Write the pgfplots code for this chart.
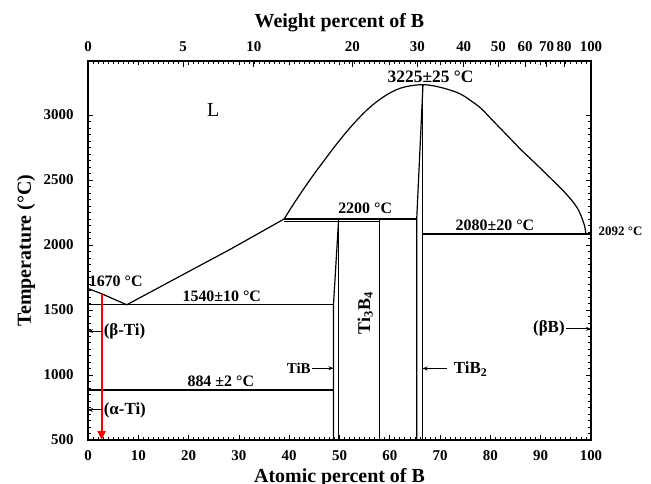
\documentclass[border=0pt]{standalone}
\usepackage{fontspec}
\setmainfont{Liberation Serif}
\usepackage{pgfplots}
\pgfplotsset{compat=1.18}
\usetikzlibrary{arrows.meta}

\begin{document}
\begin{tikzpicture}
\pgfplotsset{
  base/.style={
    scale only axis, width=503bp, height=379bp,
    xmin=0, xmax=100, ymin=500, ymax=3415,
    tick align=inside,
    major tick length=5bp, minor tick length=2.8bp,
    every tick/.style={black, line width=0.8bp},
    axis line style={line width=1.3bp},
    ticklabel style={font=\fontsize{15}{18}\selectfont\bfseries},
    /pgf/number format/assume math mode=true,
    /pgf/number format/1000 sep={},
    label style={font=\fontsize{20}{24}\selectfont\bfseries},
    clip=false,
  }
}
% top axis: weight percent
\begin{axis}[base,
  hide y axis,
  xtick pos=right, xticklabel pos=right,
  xtick={0,18.90,32.98,52.54,65.49,74.70,81.58,86.92,91.18,94.66,100},
  xticklabels={0,5,10,20,30,40,50,60,70,80,100},
  minor xtick={1,2,...,99},
  major tick length=6bp,
  extra x ticks={10,20,...,90},
  extra x tick labels={},
  extra x tick style={major tick length=4.5bp},
  xticklabel style={yshift=6bp},
  xlabel={Weight percent of B},
  xlabel style={at={([yshift=33bp]axis description cs:0.5,1)}, anchor=base},
]
\addplot[draw=none] coordinates {(0,500)(100,500)};
\end{axis}
% main axis
\begin{axis}[base, name=main,
  xtick={0,10,...,100}, minor x tick num=9,
  ytick={500,1000,...,3000}, minor y tick num=9,
  xtick pos=left, ytick pos=both, yticklabel pos=left,
  xticklabel style={yshift=-7bp},
  yticklabel style={xshift=-11bp},
  xlabel={Atomic percent of B},
  ylabel={Temperature (°C)},
  xlabel style={at={([yshift=-42bp]axis description cs:0.5,0)}, anchor=base},
  ylabel style={at={([xshift=-57bp]axis description cs:0,0.5)}, anchor=base},
]
% liquidus, Ti side
\addplot[black, line width=1.2bp] coordinates {(0,1665)(2.7,1625)(7.7,1540)(18.3,1760)(28.2,1965)(39,2200)};
% liquidus dome
\addplot[black, line width=1.2bp, smooth, tension=0.6] coordinates {
 (39,2200)(40.5,2293)(42.3,2398)(44,2494)(45.6,2580)(47.3,2668)(48.9,2750)(50.5,2828)(52.2,2906)
 (53.9,2978)(55.5,3040)(57.2,3096)(58.9,3143)(60.5,3179)(62.2,3207)(64.4,3226)(66.6,3233)
 (68.4,3226)(70.1,3212)(72.1,3190)(74.1,3160)(76.1,3110)(78.1,3052)(80.1,2972)(82.1,2892)
 (84.1,2812)(86.1,2732)(88,2662)(90,2588)(92,2512)(94,2436)(95.4,2378)(96.7,2317)(97.6,2262)
 (98.3,2197)(98.7,2150)(99,2088)};
% horizontal invariant lines
\addplot[black, line width=1.2bp] coordinates {(0,1540)(48.8,1540)};
\addplot[black, line width=1.2bp] coordinates {(0,884)(48.8,884)};
\addplot[black, line width=1.2bp] coordinates {(39,2200)(65.35,2200)};
\addplot[black, line width=1.2bp] coordinates {(39,2180)(57.9,2180)};
\addplot[black, line width=1.2bp] coordinates {(66.5,2085)(100,2085)};
% TiB
\addplot[black, line width=1.2bp] coordinates {(48.8,500)(48.8,1540)(49.8,2180)};
\addplot[black, line width=1.2bp] coordinates {(49.8,500)(49.8,2200)};
% Ti3B4
\addplot[black, line width=1.2bp] coordinates {(57.9,500)(57.9,2190)};
% TiB2
\addplot[black, line width=1.2bp] coordinates {(65.35,500)(65.35,2200)(66.6,3233)};
\addplot[black, line width=1.2bp] coordinates {(66.5,500)(66.5,3233)};
% red arrow
\addplot[red, line width=2bp, -{Triangle[length=9bp,width=8bp]}] coordinates {(2.7,1625)(2.7,500)};
% small arrows
\addplot[black, line width=1bp, -{Stealth[length=5bp,width=4bp]}] coordinates {(2.6,1338)(0,1338)};
\addplot[black, line width=1bp, -{Stealth[length=5bp,width=4bp]}] coordinates {(2.6,731)(0,731)};
\addplot[black, line width=1bp, -{Stealth[length=5bp,width=4bp]}] coordinates {(44.6,1052)(48.8,1052)};
\addplot[black, line width=1bp, -{Stealth[length=5bp,width=4bp]}] coordinates {(71.3,1050)(66.5,1050)};
\addplot[black, line width=1bp, -{Stealth[length=5bp,width=4bp]}] coordinates {(95.1,1355)(100,1355)};
% labels
\node[font=\fontsize{20}{24}\selectfont] at (axis cs:24.9,3038) {L};
\node[font=\fontsize{17.5}{20}\selectfont\bfseries] at (axis cs:68.1,3294) {3225±25 °C};
\node[font=\fontsize{16}{20}\selectfont\bfseries] at (axis cs:55.1,2282) {2200 °C};
\node[font=\fontsize{16}{20}\selectfont\bfseries] at (axis cs:80.9,2154) {2080±20 °C};
\node[font=\fontsize{13}{16}\selectfont\bfseries, anchor=west, inner sep=0pt] at (axis cs:101.5,2102) {2092 °C};
\node[font=\fontsize{16}{20}\selectfont\bfseries] at (axis cs:5.5,1722) {1670 °C};
\node[font=\fontsize{16}{20}\selectfont\bfseries] at (axis cs:26.6,1602) {1540±10 °C};
\node[font=\fontsize{16}{20}\selectfont\bfseries] at (axis cs:26.4,948) {884 ±2 °C};
\node[font=\fontsize{17}{20}\selectfont\bfseries, anchor=west, inner sep=0pt] at (axis cs:3.1,1333) {(β-Ti)};
\node[font=\fontsize{17}{20}\selectfont\bfseries, anchor=west, inner sep=0pt] at (axis cs:3.1,731) {(α-Ti)};
\node[font=\fontsize{15}{20}\selectfont\bfseries, anchor=east, inner sep=0pt] at (axis cs:44.3,1052) {TiB};
\node[font=\fontsize{17}{20}\selectfont\bfseries, anchor=west, inner sep=0pt] at (axis cs:72.7,1046) {TiB\textsubscript{2}};
\node[font=\fontsize{17}{20}\selectfont\bfseries, anchor=east, inner sep=0pt] at (axis cs:94.8,1355) {(βB)};
\node[font=\fontsize{18}{20}\selectfont\bfseries, rotate=90] at (axis cs:55.1,1475) {Ti\textsubscript{3}B\textsubscript{4}};
\end{axis}
\pgfresetboundingbox
\path ([xshift=-88bp,yshift=-44bp]main.south west) rectangle ([xshift=60bp,yshift=61bp]main.north east);
\end{tikzpicture}
\end{document}
